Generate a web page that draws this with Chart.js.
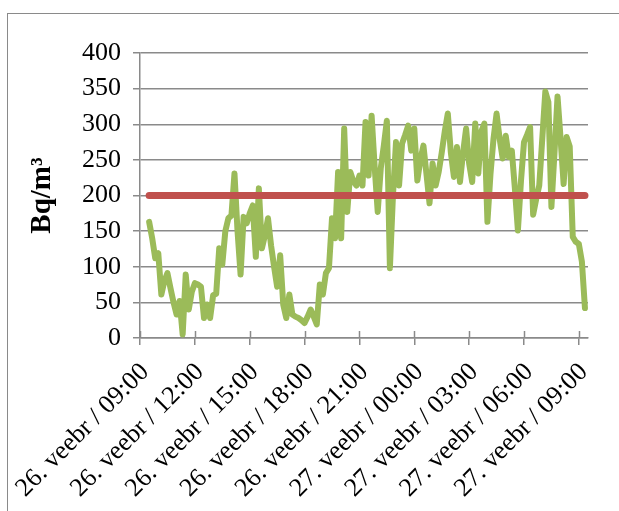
<!DOCTYPE html>
<html>
<head>
<meta charset="utf-8">
<script src="https://cdn.jsdelivr.net/npm/chart.js@4.4.1/dist/chart.umd.min.js"></script>
<style>
  html, body { margin: 0; padding: 0; background: #fff; overflow: hidden; }
  #frame { position: absolute; left: 7px; top: 13px; width: 700px; height: 600px; border: 1.5px solid #8a8a8a; }
  #c { position: absolute; left: 0; top: 0; }
</style>
</head>
<body>
<div id="frame"></div>
<canvas id="c" width="619" height="511"></canvas>
<script>
// ---- data ----
// 10-minute time slots from 26. veebr 09:00 to 27. veebr 09:30
const days = ['26', '27'];
const slotMinutes = 10;
const slotCount = 148;
// radon concentration (Bq/m3), first value at slot 3 (26. veebr 09:30)
const startSlot = 3;
const radon = [
  163, 140, 112, 119, 61, 80, 91, 70, 50, 33,
  52, 5, 89, 40, 65, 77, 75, 72, 28, 47,
  28, 60, 62, 126, 103, 150, 168, 172, 231, 150,
  89, 170, 161, 175, 186, 114, 210, 126, 144, 168,
  130, 100, 72, 116, 47, 28, 61, 33, 30, 28,
  25, 21, 30, 40, 30, 19, 75, 61, 91, 98,
  168, 140, 233, 140, 294, 177, 233, 220, 214, 228,
  214, 303, 228, 312, 240, 177, 238, 270, 305, 98,
  200, 275, 214, 273, 285, 298, 263, 294, 221, 250,
  270, 230, 189, 245, 214, 233, 260, 290, 315, 260,
  226, 268, 219, 260, 294, 245, 219, 301, 231, 290,
  301, 163, 230, 280, 315, 280, 252, 284, 254, 263,
  210, 151, 220, 275, 285, 296, 173, 195, 214, 280,
  346, 331, 184, 260, 339, 280, 216, 282, 269, 142,
  135, 132, 107, 42
];
// reference level (Bq/m3) drawn over the same period
const limitLevel = [200, 200];
const yTicks = [0, 50, 100, 150, 200, 250, 300, 350, 400];
const tickEvery = 18; // every 3 hours
const tickLabels = [
  '26. veebr / 09:00', '26. veebr / 12:00', '26. veebr / 15:00',
  '26. veebr / 18:00', '26. veebr / 21:00', '27. veebr / 00:00',
  '27. veebr / 03:00', '27. veebr / 06:00', '27. veebr / 09:00'
];

// ---- build chart structures ----
const labels = [];
for (let i = 0; i < slotCount; i++) {
  const m = 9 * 60 + i * slotMinutes;
  const d = days[Math.floor(m / 1440)];
  const hh = String(Math.floor((m % 1440) / 60)).padStart(2, '0');
  const mm = String(m % 60).padStart(2, '0');
  labels.push(d + '. veebr / ' + hh + ':' + mm);
}
const radonData = labels.map((_, i) =>
  (i >= startSlot && i < startSlot + radon.length) ? radon[i - startSlot] : null);
const endSlot = startSlot + radon.length - 1;
const limitData = labels.map((_, i) =>
  i === startSlot ? limitLevel[0] : (i === endSlot ? limitLevel[1] : null));

const gridColor = '#8a8a8a';
const serif = '"Liberation Serif", "Times New Roman", serif';

const crossTicks = {
  id: 'crossTicks',
  afterDraw(chart) {
    const x = chart.scales.x;
    const ctx = chart.ctx;
    ctx.save();
    ctx.strokeStyle = gridColor;
    ctx.lineWidth = 1.5;
    ctx.beginPath();
    for (let i = 0; i < slotCount; i += tickEvery) {
      const px = Math.round(x.getPixelForValue(i)) + 0.5;
      ctx.moveTo(px, x.top - 7);
      ctx.lineTo(px, x.top);
    }
    ctx.stroke();
    ctx.restore();
  }
};

new Chart(document.getElementById('c'), {
  type: 'line',
  data: {
    labels: labels,
    datasets: [
      {
        label: 'Piirväärtus',
        data: limitData,
        borderColor: '#C0504D',
        borderWidth: 7,
        borderCapStyle: 'round',
        pointRadius: 0,
        spanGaps: true,
        tension: 0,
        order: 0
      },
      {
        label: 'Radoon',
        data: radonData,
        borderColor: '#9BBB59',
        borderWidth: 6,
        borderCapStyle: 'round',
        borderJoinStyle: 'round',
        pointRadius: 0,
        tension: 0,
        spanGaps: false,
        order: 1
      }
    ]
  },
  options: {
    responsive: false,
    animation: false,
    events: [],
    layout: { padding: { left: 0, top: 53, right: 31, bottom: 0 } },
    plugins: { legend: { display: false }, tooltip: { enabled: false } },
    scales: {
      x: {
        type: 'category',
        offset: false,
        afterFit(s) { s.height = 173; },
        grid: {
          drawOnChartArea: false,
          drawTicks: true,
          tickLength: 7,
          color: gridColor,
          lineWidth: 1.5
        },
        border: { display: true, color: gridColor, width: 1.5 },
        ticks: {
          autoSkip: false,
          minRotation: 45,
          maxRotation: 45,
          padding: 12,
          labelOffset: 5,
          color: '#000',
          font: { family: serif, size: 26 },
          callback(v, i) {
            return (i % tickEvery === 0) ? tickLabels[i / tickEvery] : null;
          }
        }
      },
      y: {
        min: 0,
        max: 400,
        afterFit(s) { s.width = 140; },
        afterBuildTicks(s) { s.ticks = yTicks.map(v => ({ value: v })); },
        grid: {
          color: gridColor,
          lineWidth: 1.5,
          drawTicks: true,
          tickLength: 7
        },
        border: { display: true, color: gridColor, width: 1.5 },
        ticks: {
          color: '#000',
          padding: 12,
          font: { family: serif, size: 26 }
        },
        title: {
          display: true,
          text: 'Bq/m³',
          color: '#000',
          font: { family: serif, size: 29, weight: 'bold' },
          padding: { top: 25, bottom: 0 }
        }
      }
    }
  },
  plugins: [crossTicks]
});
</script>
</body>
</html>
